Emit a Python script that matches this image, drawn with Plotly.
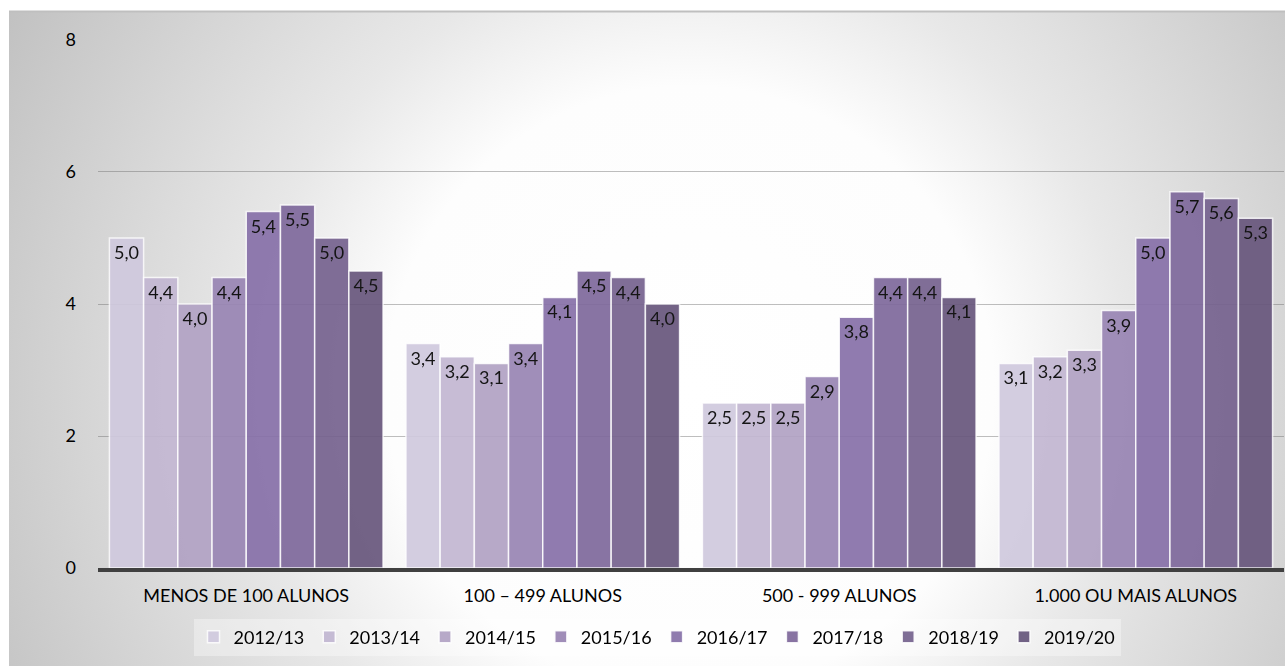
import base64
import plotly.graph_objects as go

CATEGORIAS = ["MENOS DE 100 ALUNOS", "100 – 499 ALUNOS", "500 - 999 ALUNOS", "1.000 OU MAIS ALUNOS"]
ANOS = ["2012/13", "2013/14", "2014/15", "2015/16", "2016/17", "2017/18", "2018/19", "2019/20"]

v_2012_13 = [5.0, 3.4, 2.5, 3.1]
v_2013_14 = [4.4, 3.2, 2.5, 3.2]
v_2014_15 = [4.0, 3.1, 2.5, 3.3]
v_2015_16 = [4.4, 3.4, 2.9, 3.9]
v_2016_17 = [5.4, 4.1, 3.8, 5.0]
v_2017_18 = [5.5, 4.5, 4.4, 5.7]
v_2018_19 = [5.0, 4.4, 4.4, 5.6]
v_2019_20 = [4.5, 4.0, 4.1, 5.3]
SERIES = [v_2012_13, v_2013_14, v_2014_15, v_2015_16, v_2016_17, v_2017_18, v_2018_19, v_2019_20]

CORES = ['#d0c9de', '#c2b7d2', '#b1a2c4', '#9884b3', '#8670a8', '#7e689b', '#75628e', '#67567c']

W, H = 1285, 666
ML, MR, MT, MB = 98, 1, 39, 98
PW, PH = W - ML - MR, H - MT - MB

# fundo com gradiente radial (svg embutido)
svg = f'''<svg xmlns="http://www.w3.org/2000/svg" width="{W}" height="{H}" viewBox="0 0 {W} {H}">
<defs><radialGradient id="g" gradientUnits="userSpaceOnUse" cx="690" cy="390" r="800">
<stop offset="0" stop-color="#ffffff"/><stop offset="0.38" stop-color="#fdfdfd"/>
<stop offset="0.55" stop-color="#e8e8e8"/><stop offset="1" stop-color="#bfbfbf"/>
</radialGradient></defs>
<rect x="0" y="0" width="{W}" height="{H}" fill="#ffffff"/>
<rect x="9" y="11" width="{W}" height="{H}" fill="url(#g)"/>
<line x1="9" y1="11.5" x2="{W}" y2="11.5" stroke="#bfbfbf" stroke-width="2"/>
</svg>'''
fundo = "data:image/svg+xml;base64," + base64.b64encode(svg.encode()).decode()

fig = go.Figure()
for ano, vals, cor in zip(ANOS, SERIES, CORES):
    fig.add_trace(go.Bar(
        name=ano, x=CATEGORIAS, y=vals,
        marker=dict(color=cor, line=dict(color='rgba(255,255,255,0.85)', width=1.5)),
        opacity=0.92,
        texttemplate='%{y:.1f}', textposition='inside', insidetextanchor='end',
        textangle=0, insidetextfont=dict(color='black', size=18),
    ))

fig.add_layout_image(dict(
    source=fundo, xref='paper', yref='paper',
    x=-ML / PW, y=1 + MT / PH, sizex=W / PW, sizey=H / PH,
    xanchor='left', yanchor='top', sizing='stretch', layer='below',
))

fig.update_layout(
    width=W, height=H,
    margin=dict(l=ML, r=MR, t=MT, b=MB),
    paper_bgcolor='rgba(0,0,0,0)', plot_bgcolor='rgba(0,0,0,0)',
    font=dict(family='Lato, sans-serif', color='black', size=18),
    separators=',.',
    barmode='group', bargap=0.077, bargroupgap=0,
    xaxis=dict(showgrid=False, showline=True, linecolor='#404040', linewidth=4,
               ticks='', ticklabelstandoff=8, tickfont=dict(size=18)),
    yaxis=dict(range=[0, 8.015], tickvals=[0, 2, 4, 6, 8], showgrid=True,
               gridcolor='rgba(110,110,110,0.45)', gridwidth=1, zeroline=False,
               showline=False, ticks='', ticklabelstandoff=21, tickfont=dict(size=18)),
    legend=dict(orientation='h', x=(657 - ML) / PW, xanchor='center', y=-69 / PH, yanchor='middle',
                bgcolor='rgba(255,255,255,0.35)', font=dict(size=18), itemwidth=30,
                traceorder='normal'),
)

fig.write_html("out.html", post_script="document.body.style.margin='0';",
               config={'displayModeBar': False})
